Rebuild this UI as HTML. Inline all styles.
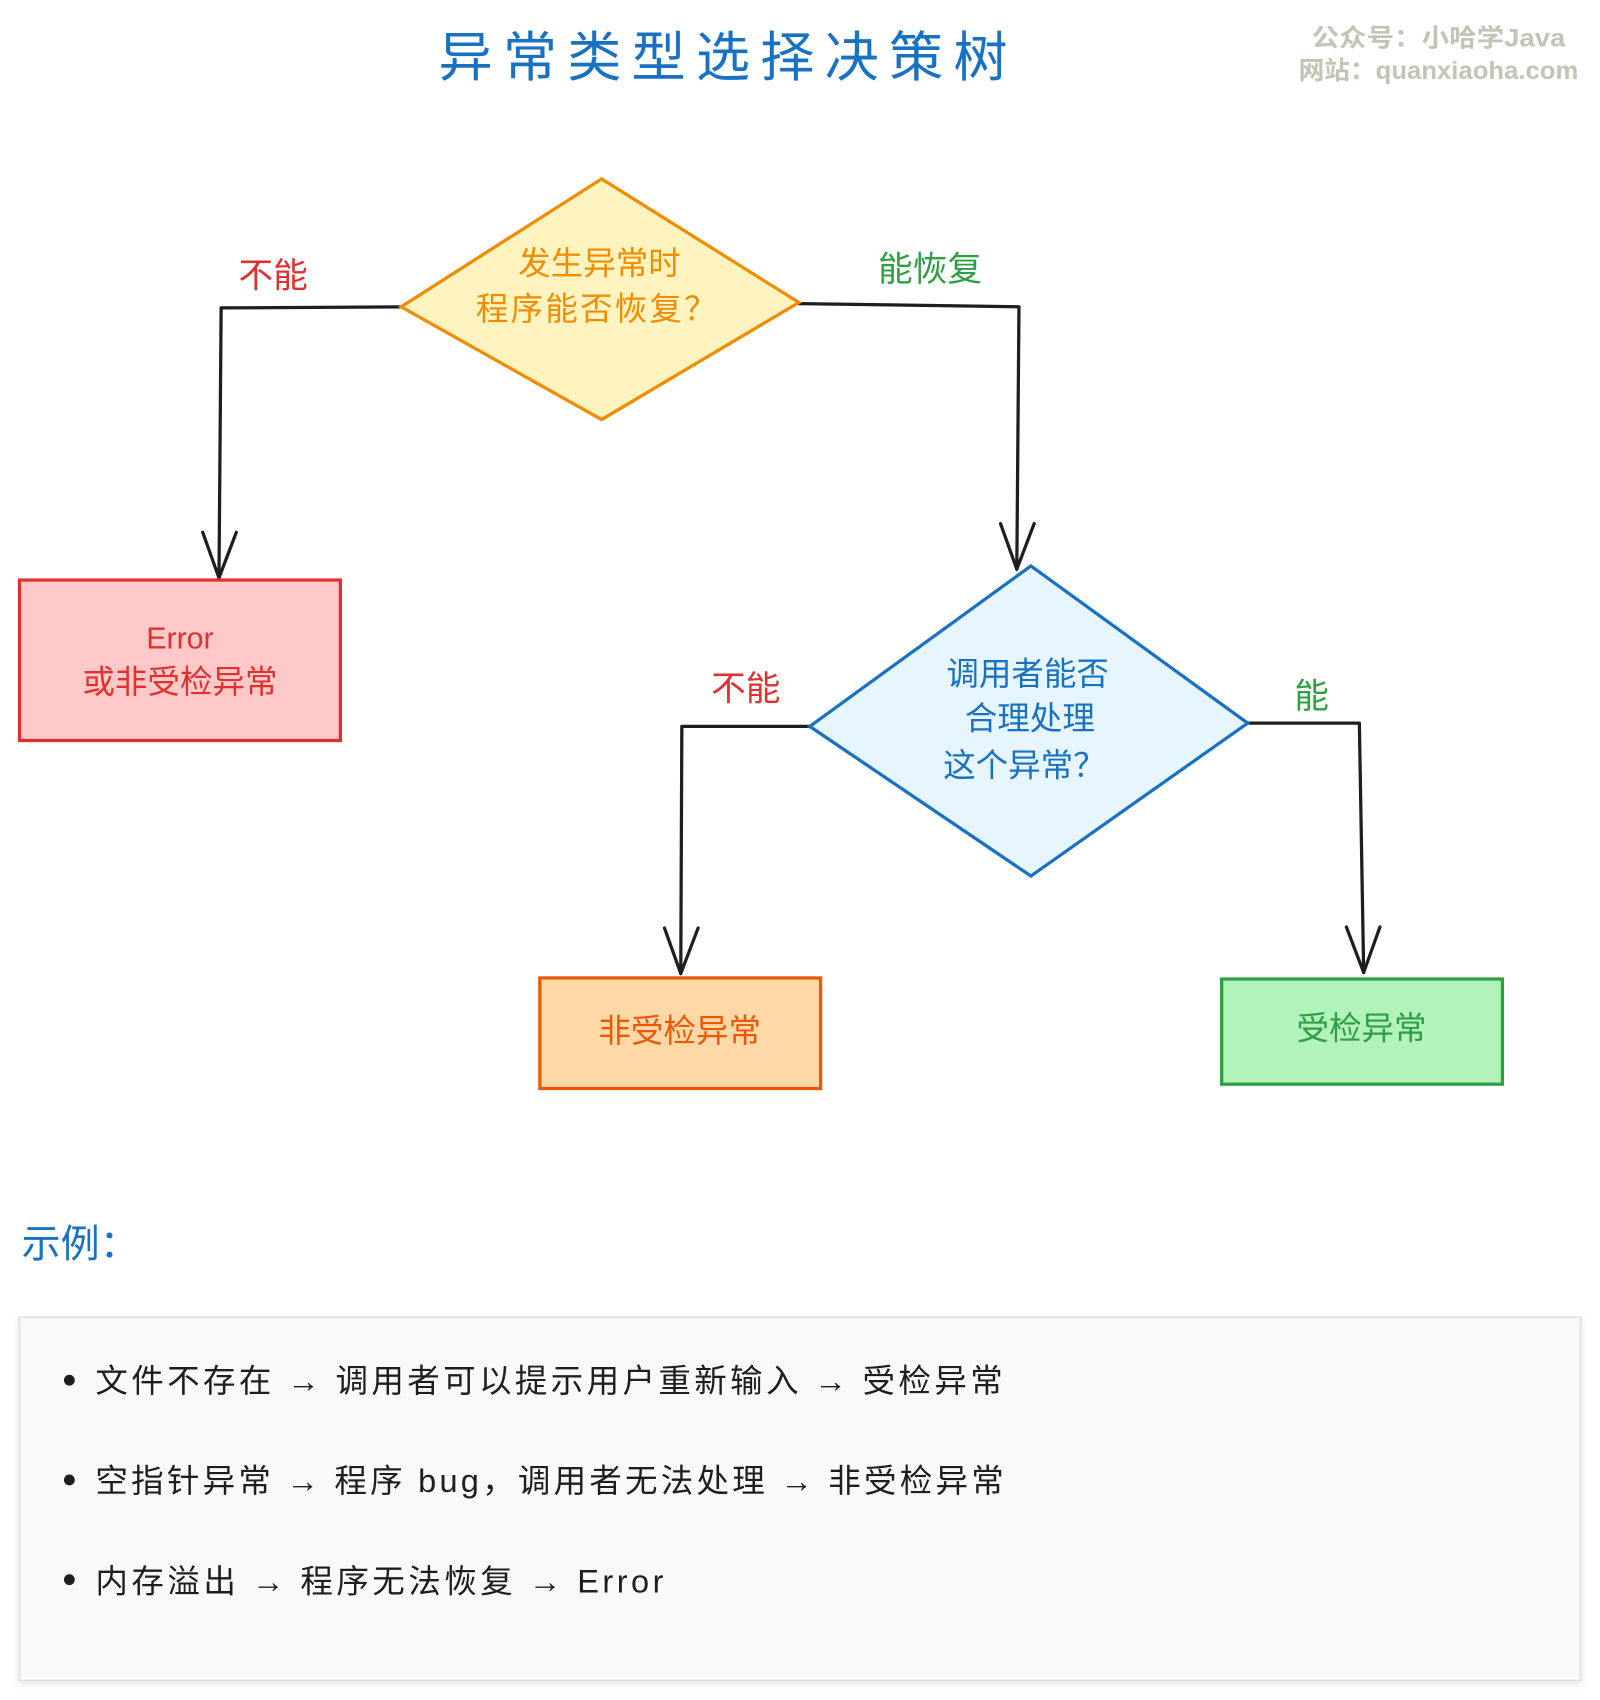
<!DOCTYPE html>
<html><head><meta charset="utf-8"><style>
html,body{margin:0;padding:0;background:#fff;width:1600px;height:1700px;overflow:hidden}
svg{display:block}
text{font-family:"Liberation Sans","Noto Sans CJK SC",sans-serif}
</style></head><body>
<svg width="1600" height="1700" viewBox="0 0 1476 1568" preserveAspectRatio="none" xmlns="http://www.w3.org/2000/svg">
<defs><filter id="sh" x="-5%" y="-5%" width="110%" height="110%"><feDropShadow dx="0" dy="2" stdDeviation="3" flood-color="#000" flood-opacity="0.12"/></filter></defs>
<text x="667" y="70" font-size="50" fill="#1971c2" text-anchor="middle" textLength="525" lengthAdjust="spacing">异常类型选择决策树</text>
<text x="1210" y="43" font-size="23" fill="#c2c4b4" textLength="234" lengthAdjust="spacingAndGlyphs" font-weight="bold">公众号：小哈学Java</text>
<text x="1198" y="73" font-size="23" fill="#c2c4b4" textLength="258" lengthAdjust="spacingAndGlyphs" font-weight="bold">网站：quanxiaoha.com</text>

<g fill="none" stroke="#1e1e1e" stroke-width="3" stroke-linecap="round" stroke-linejoin="round">
<path d="M370 283 L204 284 L202 533"/><path d="M187 491 L202 533 L218 491"/>
<path d="M737 280 L940 283 L938 525"/><path d="M923 483 L938 525 L954 483"/>
<path d="M747 670 L629 670 L628 898"/><path d="M613 856 L628 898 L644 856"/>
<path d="M1151 667 L1254 667 L1258 897"/><path d="M1242 855 L1258 897 L1273 855"/>
</g>
<text x="252" y="265" font-size="32" fill="#e03131" text-anchor="middle">不能</text>
<text x="858" y="259" font-size="32" fill="#2f9e44" text-anchor="middle">能恢复</text>
<text x="688" y="646" font-size="32" fill="#e03131" text-anchor="middle">不能</text>
<text x="1210" y="653" font-size="32" fill="#2f9e44" text-anchor="middle">能</text>

<polygon points="555,165 737,279 555,387 370,283" fill="#fff3bf" stroke="#f08c00" stroke-width="3"/>
<text x="553" y="253" font-size="30" fill="#f08c00" text-anchor="middle">发生异常时</text>
<text x="550" y="295" font-size="30" fill="#f08c00" text-anchor="middle" textLength="222" lengthAdjust="spacing">程序能否恢复？</text>

<polygon points="951,522 1151,667 951,808 747,670" fill="#e7f5ff" stroke="#1971c2" stroke-width="3"/>
<text x="948" y="632" font-size="30" fill="#1971c2" text-anchor="middle">调用者能否</text>
<text x="950" y="673" font-size="30" fill="#1971c2" text-anchor="middle">合理处理</text>
<text x="945" y="716" font-size="30" fill="#1971c2" text-anchor="middle">这个异常？</text>

<rect x="18" y="535" width="296" height="148" fill="#ffc9c9" stroke="#e03131" stroke-width="3"/>
<text x="166" y="598" font-size="28" fill="#e03131" text-anchor="middle">Error</text>
<text x="166" y="639" font-size="30" fill="#e03131" text-anchor="middle">或非受检异常</text>

<rect x="498" y="902" width="259" height="102" fill="#ffd8a8" stroke="#e8590c" stroke-width="3"/>
<text x="627" y="961" font-size="30" fill="#e8590c" text-anchor="middle">非受检异常</text>

<rect x="1127" y="903" width="259" height="97" fill="#b2f2bb" stroke="#2f9e44" stroke-width="3"/>
<text x="1256" y="959" font-size="30" fill="#2f9e44" text-anchor="middle">受检异常</text>

<text x="20" y="1160" font-size="36" fill="#1971c2">示例：</text>
<rect x="18" y="1215" width="1440" height="335" fill="#f8f9fa" stroke="#dee2e6" stroke-width="1.5" filter="url(#sh)"/>
<g fill="#1e1e1e">
<circle cx="64" cy="1273" r="5"/><circle cx="64" cy="1365" r="5"/><circle cx="64" cy="1457" r="5"/>
<text x="88" y="1284" font-size="30" textLength="837" lengthAdjust="spacing">文件不存在 → 调用者可以提示用户重新输入 → 受检异常</text>
<text x="88" y="1376" font-size="30" textLength="838" lengthAdjust="spacing">空指针异常 → 程序 bug，调用者无法处理 → 非受检异常</text>
<text x="88" y="1469" font-size="30" textLength="524" lengthAdjust="spacing">内存溢出 → 程序无法恢复 → Error</text>
</g>
</svg>
</body></html>
